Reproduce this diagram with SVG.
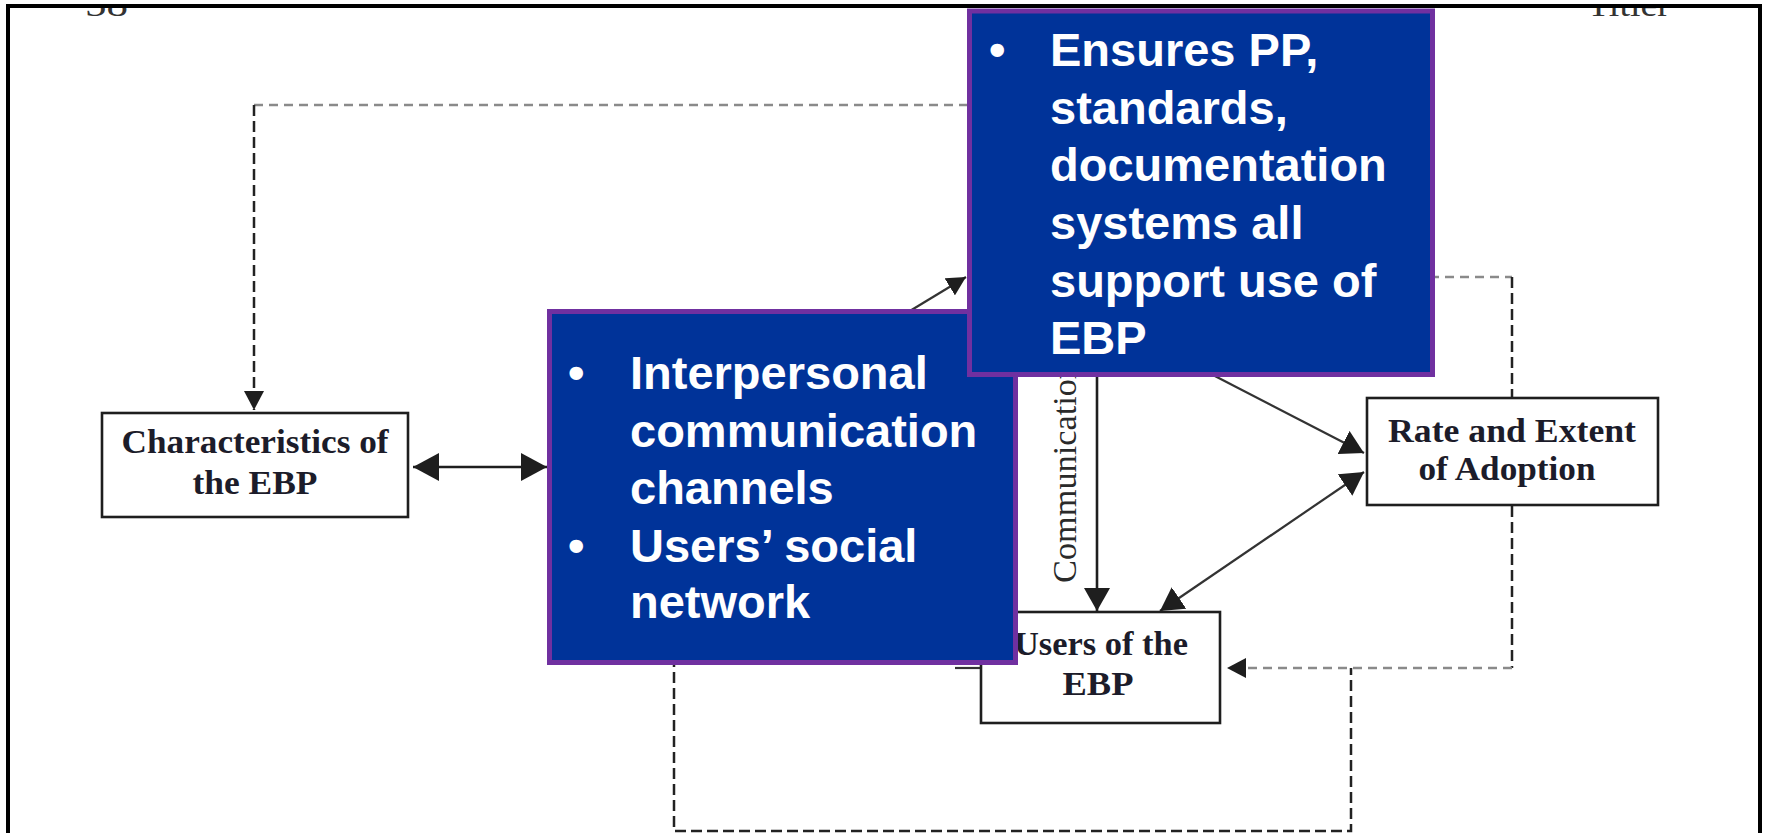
<svg xmlns="http://www.w3.org/2000/svg" width="1769" height="833" viewBox="0 0 1769 833">
  <style>
    .frame { fill: none; stroke: #000; stroke-width: 4; }
    .node { fill: #fff; stroke: #1e1e1e; stroke-width: 2.6; }
    .lbl { font-family: "Liberation Serif", "Times New Roman", serif; font-weight: bold; font-size: 34px; fill: #1c1c2a; text-anchor: middle; }
    .vlbl { font-family: "Liberation Serif", "Times New Roman", serif; font-size: 34px; fill: #2a2a2a; }
    .hdr { font-family: "Liberation Serif", "Times New Roman", serif; font-size: 34px; fill: #333; }
    .callout { fill: #003399; stroke: #7030A0; stroke-width: 5; }
    .ctext { font-family: "Liberation Sans", Arial, sans-serif; font-weight: bold; font-size: 47px; fill: #fff; }
    .solid { fill: none; stroke: #1e1e1e; stroke-width: 2.6; }
    .thin { fill: none; stroke: #333; stroke-width: 2.2; }
    .dashg { fill: none; stroke: #8a8a8a; stroke-width: 2.5; stroke-dasharray: 9 6; }
    .dashk { fill: none; stroke: #222; stroke-width: 2.5; stroke-dasharray: 11 5; }
  </style>
  <defs>
    <marker id="ahBig" viewBox="0 0 26 28" refX="26" refY="14" markerWidth="26" markerHeight="28" markerUnits="userSpaceOnUse" orient="auto-start-reverse">
      <path d="M0,0 L26,14 L0,28 z" fill="#1e1e1e"/>
    </marker>
    <marker id="ahMid" viewBox="0 0 23 26" refX="23" refY="13" markerWidth="23" markerHeight="26" markerUnits="userSpaceOnUse" orient="auto-start-reverse">
      <path d="M0,0 L23,13 L0,26 z" fill="#1e1e1e"/>
    </marker>
    <marker id="ahSmall" viewBox="0 0 19 20" refX="19" refY="10" markerWidth="19" markerHeight="20" markerUnits="userSpaceOnUse" orient="auto">
      <path d="M0,0 L19,10 L0,20 z" fill="#1e1e1e"/>
    </marker>
    <clipPath id="hdrClip">
      <rect x="0" y="8" width="1769" height="12"/>
    </clipPath>
  </defs>

  <rect width="1769" height="833" fill="#fff"/>

  <!-- page header, cut by the top edge -->
  <g id="header" clip-path="url(#hdrClip)">
    <text class="hdr" x="85" y="16" textLength="43" lengthAdjust="spacingAndGlyphs">58</text>
    <text class="hdr" x="1587" y="16" textLength="83" lengthAdjust="spacingAndGlyphs">Titler</text>
  </g>

  <!-- outer frame -->
  <path class="frame" d="M8,833 V6 H1760 V833"/>

  <!-- connectors -->
  <g id="connectors">
    <!-- feedback loop into the characteristics box -->
    <path class="dashg" d="M968,105 H254"/>
    <path class="dashk" d="M254,105 V410" marker-end="url(#ahSmall)"/>
    <!-- characteristics <-> communication channels -->
    <path class="solid" d="M413,467 H547" stroke-width="3" marker-start="url(#ahBig)" marker-end="url(#ahBig)"/>
    <!-- channels -> social system -->
    <path class="thin" d="M895,320 L966,277" marker-end="url(#ahSmall)"/>
    <!-- communication -> users -->
    <path class="solid" d="M1097,370 V611" marker-end="url(#ahMid)"/>
    <!-- social system -> rate of adoption -->
    <path class="thin" d="M1180,358 L1364,453" marker-end="url(#ahMid)"/>
    <!-- rate of adoption <-> users -->
    <path class="thin" d="M1364,472 L1160,611" marker-start="url(#ahMid)" marker-end="url(#ahMid)"/>
    <!-- loop from rate of adoption top -->
    <path class="dashg" d="M1430,277 H1512"/>
    <path class="dashk" d="M1512,277 V398"/>
    <!-- loop from rate of adoption bottom back to users -->
    <path class="dashk" d="M1512,506 V668"/>
    <path class="dashg" d="M1512,668 H1227" marker-end="url(#ahSmall)"/>
    <!-- bottom loop -->
    <path class="dashk" d="M674,640 V831 H1351 V668"/>
    <!-- stub entering users box from the left -->
    <path class="thin" d="M955,668 H981" stroke-width="3"/>
  </g>

  <!-- nodes -->
  <g id="characteristics">
    <rect class="node" x="102" y="413" width="306" height="104"/>
    <text class="lbl" x="255" y="453" textLength="267" lengthAdjust="spacingAndGlyphs">Characteristics of</text>
    <text class="lbl" x="255" y="494" textLength="125" lengthAdjust="spacingAndGlyphs">the EBP</text>
  </g>

  <g id="rate">
    <rect class="node" x="1367" y="398" width="291" height="107"/>
    <text class="lbl" x="1512" y="442" textLength="248" lengthAdjust="spacingAndGlyphs">Rate and Extent</text>
    <text class="lbl" x="1507" y="480" textLength="177" lengthAdjust="spacingAndGlyphs">of Adoption</text>
  </g>

  <g id="users">
    <rect class="node" x="981" y="612" width="239" height="111"/>
    <text class="lbl" x="1101" y="655" textLength="174" lengthAdjust="spacingAndGlyphs">Users of the</text>
    <text class="lbl" x="1098" y="695" textLength="71" lengthAdjust="spacingAndGlyphs">EBP</text>
  </g>

  <g id="communication-label">
    <text class="vlbl" transform="translate(1076,583) rotate(-90)" x="0" y="0" textLength="221" lengthAdjust="spacingAndGlyphs">Communication</text>
  </g>

  <!-- callout: channels -->
  <g id="callout-channels">
    <rect class="callout" x="549.5" y="311.5" width="466" height="351"/>
    <text class="ctext" x="568" y="389">•</text>
    <text class="ctext" x="630" y="389">Interpersonal</text>
    <text class="ctext" x="630" y="447">communication</text>
    <text class="ctext" x="630" y="504">channels</text>
    <text class="ctext" x="568" y="562">•</text>
    <text class="ctext" x="630" y="562">Users’ social</text>
    <text class="ctext" x="630" y="618">network</text>
  </g>

  <!-- callout: organisation -->
  <g id="callout-organisation">
    <rect class="callout" x="969.5" y="11" width="463" height="363.5"/>
    <text class="ctext" x="989" y="66">•</text>
    <text class="ctext" x="1050" y="66">Ensures PP,</text>
    <text class="ctext" x="1050" y="124">standards,</text>
    <text class="ctext" x="1050" y="181">documentation</text>
    <text class="ctext" x="1050" y="239">systems all</text>
    <text class="ctext" x="1050" y="297">support use of</text>
    <text class="ctext" x="1050" y="354">EBP</text>
  </g>
</svg>
